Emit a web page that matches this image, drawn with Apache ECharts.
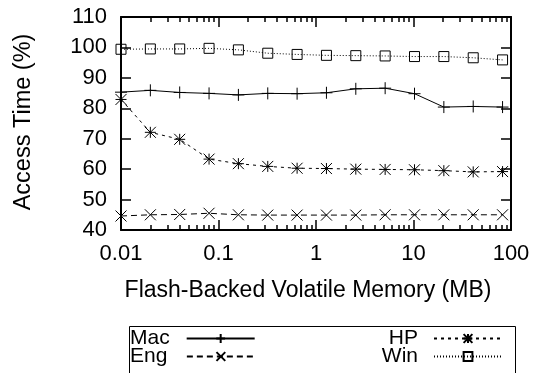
<!DOCTYPE html>
<html>
<head>
<meta charset="utf-8">
<script src="https://cdn.jsdelivr.net/npm/echarts@6/dist/echarts.min.js"></script>
<style>
html,body{margin:0;padding:0;background:#fff;}
#c{width:541px;height:373px;}
</style>
</head>
<body>
<div id="c"></div>
<script>
// ---- data ----
var xValues = [0.01, 0.02, 0.04, 0.08, 0.16, 0.32, 0.64, 1.28, 2.56, 5.12, 10.24, 20.48, 40.96, 81.92];
var macValues = [85.3, 85.9, 85.2, 84.9, 84.4, 84.9, 84.8, 85.1, 86.4, 86.6, 84.8, 80.4, 80.6, 80.4];
var engValues = [44.6, 45.0, 45.1, 45.5, 45.0, 44.9, 44.9, 44.9, 44.9, 45.0, 45.0, 45.0, 45.0, 45.0];
var hpValues  = [82.9, 72.1, 69.8, 63.3, 61.8, 60.9, 60.3, 60.2, 60.0, 59.9, 59.8, 59.5, 59.1, 59.2];
var winValues = [99.4, 99.5, 99.5, 99.7, 99.2, 98.1, 97.7, 97.4, 97.3, 97.2, 97.0, 97.0, 96.6, 95.9];
var xTickLabels = ['0.01', '0.1', '1', '10', '100'];
var xMajorTicks = [0.01, 0.1, 1, 10, 100];
var xMinorTicks = [0.02,0.03,0.04,0.05,0.06,0.07,0.08,0.09,
                   0.2,0.3,0.4,0.5,0.6,0.7,0.8,0.9,
                   2,3,4,5,6,7,8,9,
                   20,30,40,50,60,70,80,90];
var seriesNames = ['Mac', 'Eng', 'HP', 'Win'];
var xTitle = 'Flash-Backed Volatile Memory (MB)';
var yTitle = 'Access Time (%)';

// ---- styling ----
var FONT = '"Liberation Sans", Arial, Helvetica, sans-serif';
var pairs = function (vals) { return xValues.map(function (x, i) { return [x, vals[i]]; }); };
var plusPath = 'path://M5,0L5,10M0,5L10,5';
var crossPath = 'path://M0,0L10,10M0,10L10,0';
var starPath = 'path://M0,0L10,10M0,10L10,0M5,0L5,10M0,5L10,5';

function labelFor(v) {
  for (var i = 0; i < xMajorTicks.length; i++) {
    if (Math.abs(Math.log10(v) - Math.log10(xMajorTicks[i])) < 1e-6) return xTickLabels[i];
  }
  return '';
}

var axisLineStyle = {color: '#000', width: 2};
var tickStyle = {color: '#000', width: 1.5};

var baseX = {
  type: 'log', logBase: 10, min: 0.01, max: 100, gridIndex: 0,
  splitLine: {show: false}, minorTick: {show: false}
};

var legendFont = {fontSize: 21, fontFamily: FONT, color: '#000', lineHeight: 18};

var chart = echarts.init(document.getElementById('c'), null, {renderer: 'canvas'});
chart.setOption({
  animation: false,
  backgroundColor: '#fff',
  textStyle: {fontFamily: FONT},
  grid: {left: 121, top: 17, right: 30, bottom: 143, containLabel: false},
  xAxis: [
    Object.assign({}, baseX, {
      position: 'bottom',
      axisLine: {show: true, onZero: false, lineStyle: axisLineStyle},
      axisTick: {show: true, inside: true, length: 10, lineStyle: tickStyle, customValues: xMajorTicks},
      axisLabel: {show: true, margin: 13, color: '#000', fontSize: 22, fontFamily: FONT,
                  customValues: xMajorTicks, formatter: labelFor}
    }),
    Object.assign({}, baseX, {
      position: 'top',
      axisLine: {show: true, onZero: false, lineStyle: axisLineStyle},
      axisTick: {show: true, inside: true, length: 10, lineStyle: tickStyle, customValues: xMajorTicks},
      axisLabel: {show: false}
    }),
    Object.assign({}, baseX, {
      position: 'bottom',
      axisLine: {show: false, onZero: false},
      axisTick: {show: true, inside: true, length: 5, lineStyle: tickStyle, customValues: xMinorTicks},
      axisLabel: {show: false}
    }),
    Object.assign({}, baseX, {
      position: 'top',
      axisLine: {show: false, onZero: false},
      axisTick: {show: true, inside: true, length: 5, lineStyle: tickStyle, customValues: xMinorTicks},
      axisLabel: {show: false}
    })
  ],
  yAxis: [
    {
      type: 'value', min: 40, max: 110, interval: 10, position: 'left',
      splitLine: {show: false},
      axisLine: {show: true, onZero: false, lineStyle: axisLineStyle},
      axisTick: {show: true, inside: true, length: 10, lineStyle: tickStyle},
      axisLabel: {color: '#000', fontSize: 22, fontFamily: FONT, margin: 14}
    },
    {
      type: 'value', min: 40, max: 110, interval: 10, position: 'right',
      splitLine: {show: false},
      axisLine: {show: true, onZero: false, lineStyle: axisLineStyle},
      axisTick: {show: true, inside: true, length: 10, lineStyle: tickStyle},
      axisLabel: {show: false}
    }
  ],
  legend: [
    {data: ['Mac'], left: 130, top: 328, pad: 12},
    {data: ['Eng'], left: 130, top: 346, pad: 14.5},
    {data: ['HP'], right: 38, top: 328, pad: 11},
    {data: ['Win'], right: 38, top: 346, pad: 11}
  ].map(function (l) {
    var pad = l.pad; delete l.pad;
    return Object.assign(l, {
      orient: 'horizontal', align: 'right', padding: 0, itemGap: 0,
      itemWidth: 68, itemHeight: 11, selectedMode: false,
      textStyle: Object.assign({padding: [0, pad, 0, 0]}, legendFont)
    });
  }),
  graphic: [
    {type: 'rect', shape: {x: 129.5, y: 326.5, width: 386, height: 80}, style: {fill: 'none', stroke: '#000', lineWidth: 1}, z: 0, silent: true},
    {type: 'text', x: 308, y: 291, style: {text: xTitle, font: '23px ' + FONT, fill: '#000', align: 'center', verticalAlign: 'middle'}},
    {type: 'text', x: 24, y: 122, rotation: Math.PI / 2, style: {text: yTitle, font: '23.5px ' + FONT, fill: '#000', align: 'center', verticalAlign: 'middle'}}
  ],
  series: [
    {
      name: 'Mac', type: 'line', data: pairs(macValues), xAxisIndex: 0, yAxisIndex: 0,
      symbol: plusPath, symbolSize: 12, showAllSymbol: true,
      lineStyle: {color: '#000', width: 1, type: 'solid'},
      itemStyle: {color: '#000', borderColor: '#000', borderWidth: 1}
    },
    {
      name: 'Eng', type: 'line', data: pairs(engValues), xAxisIndex: 0, yAxisIndex: 0,
      symbol: crossPath, symbolSize: 11, showAllSymbol: true,
      lineStyle: {color: '#000', width: 1, type: [6, 4]},
      itemStyle: {color: '#000', borderColor: '#000', borderWidth: 1}
    },
    {
      name: 'HP', type: 'line', data: pairs(hpValues), xAxisIndex: 0, yAxisIndex: 0,
      symbol: starPath, symbolSize: 11, showAllSymbol: true,
      lineStyle: {color: '#000', width: 1, type: [3, 4]},
      itemStyle: {color: '#000', borderColor: '#000', borderWidth: 1}
    },
    {
      name: 'Win', type: 'line', data: pairs(winValues), xAxisIndex: 0, yAxisIndex: 0,
      symbol: 'rect', symbolSize: 10, showAllSymbol: true,
      lineStyle: {color: '#000', width: 1, type: [1, 2]},
      itemStyle: {color: 'rgba(0,0,0,0)', borderColor: '#000', borderWidth: 1}
    }
  ]
});
</script>
</body>
</html>
